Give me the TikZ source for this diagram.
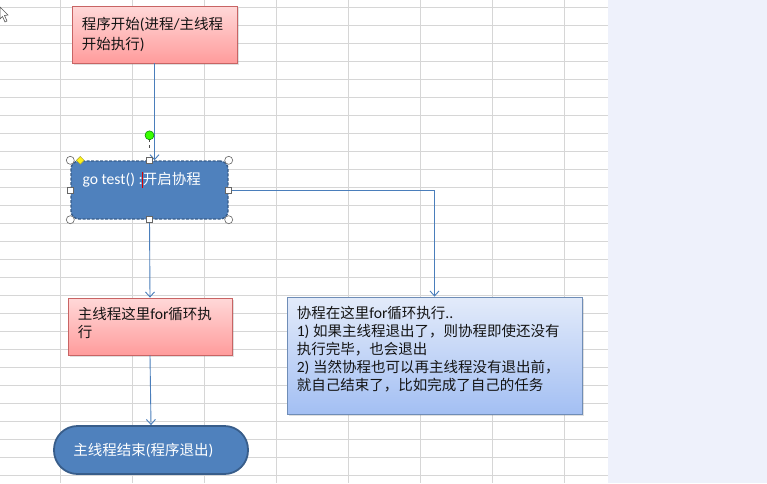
\documentclass[tikz,border=0pt]{standalone}
\usepackage{fontspec}
\setmainfont{Carlito}[Scale=1.08]
\newfontfamily\cjk{Noto Sans CJK SC}
\usetikzlibrary{arrows.meta,shadows,shapes.geometric}
\newcommand\zh[1]{{\cjk #1}}
\definecolor{gridc}{HTML}{D6D6D6}
\definecolor{panel}{HTML}{EEF1FB}
\definecolor{conn}{HTML}{4A7EBB}
\definecolor{dblue}{HTML}{4F81BD}
\definecolor{dbord}{HTML}{385D8A}
\definecolor{pinkT}{HTML}{FFD8D8}
\definecolor{pinkB}{HTML}{FF9C9C}
\definecolor{pinkD}{HTML}{C86464}
\definecolor{lbT}{HTML}{E3EBFA}
\definecolor{lbB}{HTML}{A3BFF3}
\definecolor{lbD}{HTML}{6F8DB7}
\definecolor{txt}{HTML}{141414}
\tikzset{
  pinkbox/.style={rectangle, draw=pinkD, line width=0.8pt, top color=pinkT, bottom color=pinkB,
    inner sep=0pt, drop shadow={opacity=0.25, shadow xshift=1.5pt, shadow yshift=-2pt}},
  bluebox/.style={rectangle, draw=lbD, line width=0.8pt, top color=lbT, bottom color=lbB,
    inner sep=0pt, drop shadow={opacity=0.25, shadow xshift=1.5pt, shadow yshift=-2pt}},
  darkbox/.style={rectangle, fill=dblue, draw=dbord, inner sep=0pt},
  btxt/.style={anchor=north west, inner sep=0pt, align=left, text=txt,
    font=\fontsize{14.5}{18.5}\selectfont},
  wtxt/.style={inner sep=0pt, align=left, text=white,
    font=\fontsize{14.5}{18.5}\selectfont},
  conn/.style={draw=conn, line width=0.9pt, -{Straight Barb[length=5pt,width=9pt]}},
  hcirc/.style={circle, draw=gray!80!black, fill=white, minimum size=8pt, inner sep=0pt, line width=0.6pt},
  hsq/.style={rectangle, draw=gray!80!black, fill=white, minimum size=6pt, inner sep=0pt, line width=0.6pt},
}
\begin{document}
\begin{tikzpicture}[x=1pt,y=-1pt]
\useasboundingbox (0,0) rectangle (767,483);
% background spreadsheet
\fill[white] (0,0) rectangle (608,483);
\fill[panel] (608,0) rectangle (767,483);
\foreach \gx in {60,132,...,564} \draw[gridc, line width=0.8pt] (\gx,0) -- (\gx,483);
\foreach \gy in {7,25,...,475} \draw[gridc, line width=0.8pt] (0,\gy) -- (608,\gy);
% mouse pointer
\draw[gray!70!black, fill=white, line width=0.6pt] (0,7) -- (8,15) -- (4.5,15.5) -- (7,21) -- (5,22) -- (2.5,16.5) -- (0,19) -- cycle;

% nodes
\node[pinkbox, minimum width=165pt, minimum height=57pt] (b1) at (154.5,34.5) {};
\node[btxt, font=\fontsize{14.5}{20.5}\selectfont] (t1) at ([shift={(10pt,-11pt)}]b1.north west)
  {\zh{程序开始}(\zh{进程}/\zh{主线程}\\\zh{开始执行})};

\node[darkbox, rounded corners=8pt, dash pattern=on 3pt off 1.5pt, line width=1.4pt, minimum width=157pt, minimum height=58pt] (b2) at (149.5,190) {};
\node[wtxt, anchor=north west] (t2) at ([shift={(12pt,-12pt)}]b2.north west) {go test() :\zh{开启协程}};

\node[pinkbox, minimum width=164pt, minimum height=57pt] (b4) at (150,326.5) {};
\node[btxt] (t4) at ([shift={(10pt,-9pt)}]b4.north west) {\zh{主线程这里}for\zh{循环执}\\\zh{行}};

\node[bluebox, minimum width=295pt, minimum height=117pt] (b3) at (434.5,355.5) {};
\node[btxt, font=\fontsize{14.5}{18}\selectfont] (t3) at ([shift={(10pt,-9pt)}]b3.north west)
  {\zh{协程在这里}for\zh{循环执行}..\\
   1) \zh{如果主线程退出了，则协程即使还没有}\\
   \zh{执行完毕，也会退出}\\
   2) \zh{当然协程也可以再主线程没有退出前，}\\
   \zh{就自己结束了，比如完成了自己的任务}};

\node[darkbox, rounded corners=23.5pt, line width=1.8pt, minimum width=194pt, minimum height=48pt] (e) at (151,450) {};
\node[wtxt, anchor=west] (t5) at ([xshift=20pt]e.west) {\zh{主线程结束}(\zh{程序退出})};

% connectors
\draw[conn] (b1.south) -- (b1.south |- b2.north);
\draw[conn] (b2.east) -| (b3.north);
\draw[conn] (b2.south) -- (b4.north);
\draw[conn] (b4.south) -- (e.north);

% selection handles on b2
\coordinate (rot) at ([yshift=25pt]b2.north);
\draw[gray!60!black, line width=0.6pt, dashed] ([yshift=-4pt]rot) -- ([yshift=12pt]b2.north);
\node[circle, fill=green!70!lime, draw=green!50!black, minimum size=9pt, inner sep=0pt, line width=0.5pt] (hr) at (rot) {};
\node[hcirc] (h1) at (b2.north west) {};
\node[hcirc] (h2) at (b2.north east) {};
\node[hcirc] (h3) at (b2.south west) {};
\node[hcirc] (h4) at (b2.south east) {};
\node[hsq] (h5) at (b2.north) {};
\node[hsq] (h6) at (b2.south) {};
\node[hsq] (h7) at (b2.west) {};
\node[hsq] (h8) at (b2.east) {};
\node[diamond, fill=yellow!90!white, draw=yellow!60!black, minimum size=8pt, inner sep=0pt, line width=0.5pt, shape aspect=1] (hy) at ([xshift=10pt]b2.north west) {};
% text cursor
\draw[red!85!black, line width=1.1pt] (142.5,172) -- (142.5,188);
\end{tikzpicture}
\end{document}
